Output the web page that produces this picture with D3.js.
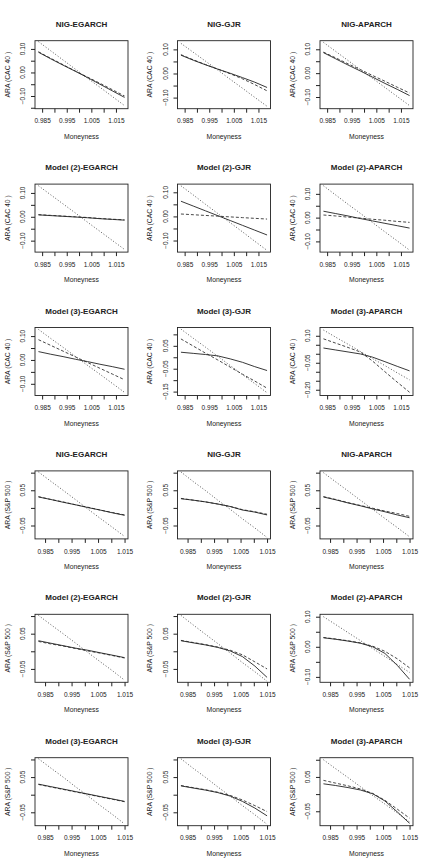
<!DOCTYPE html>
<html>
<head>
<meta charset="utf-8">
<script src="https://cdn.jsdelivr.net/npm/d3@7/dist/d3.min.js"></script>
<style>
  body { margin: 0; background: #fff; }
  text { font-family: "Liberation Sans", Arial, sans-serif; fill: #222; }
</style>
</head>
<body>
<div id="vis"></div>
<script>
var titles = ["NIG-EGARCH", "NIG-GJR", "NIG-APARCH",
  "Model (2)-EGARCH", "Model (2)-GJR", "Model (2)-APARCH",
  "Model (3)-EGARCH", "Model (3)-GJR", "Model (3)-APARCH",
  "NIG-EGARCH", "NIG-GJR", "NIG-APARCH",
  "Model (2)-EGARCH", "Model (2)-GJR", "Model (2)-APARCH",
  "Model (3)-EGARCH", "Model (3)-GJR", "Model (3)-APARCH"];
var y_titles = ["ARA (CAC 40 )", "ARA (S&P 500 )"];

var moneyness_cac = [0.9835, 0.9885, 0.9935, 0.9985, 1.0035, 1.0085, 1.0135, 1.0185];
var moneyness_sp = [0.9825, 0.9871, 0.9918, 0.9964, 1.0011, 1.0057, 1.0104, 1.015];
var x_labels = [0.985, 0.995, 1.005, 1.015];

// one row per panel (rows of the figure, left to right)
var solid = [
  [0.086, 0.058, 0.031, 0.005, -0.022, -0.050, -0.078, -0.106],
  [0.076, 0.055, 0.036, 0.018, 0.001, -0.017, -0.036, -0.058],
  [0.086, 0.060, 0.034, 0.009, -0.017, -0.043, -0.068, -0.094],
  [0.008, 0.005, 0.002, -0.001, -0.004, -0.008, -0.011, -0.014],
  [0.063, 0.043, 0.023, 0.003, -0.017, -0.037, -0.057, -0.077],
  [0.027, 0.017, 0.007, -0.004, -0.014, -0.024, -0.034, -0.044],
  [0.035, 0.024, 0.014, 0.003, -0.007, -0.018, -0.028, -0.039],
  [0.022, 0.017, 0.012, 0.006, -0.007, -0.022, -0.041, -0.058],
  [0.032, 0.021, 0.010, -0.001, -0.019, -0.044, -0.070, -0.095],
  [0.031, 0.024, 0.016, 0.009, 0.001, -0.006, -0.014, -0.021],
  [0.026, 0.022, 0.017, 0.011, 0.004, -0.006, -0.012, -0.020],
  [0.031, 0.023, 0.014, 0.006, -0.003, -0.011, -0.020, -0.028],
  [0.030, 0.023, 0.016, 0.009, 0.003, -0.004, -0.011, -0.018],
  [0.030, 0.024, 0.018, 0.011, 0.001, -0.015, -0.042, -0.074],
  [0.030, 0.025, 0.019, 0.012, 0.000, -0.022, -0.062, -0.108],
  [0.030, 0.023, 0.016, 0.009, 0.002, -0.005, -0.012, -0.019],
  [0.025, 0.019, 0.013, 0.006, -0.004, -0.019, -0.038, -0.060],
  [0.030, 0.025, 0.019, 0.012, 0.001, -0.020, -0.052, -0.085]
];
var dashed = [
  [0.088, 0.060, 0.033, 0.006, -0.020, -0.046, -0.073, -0.100],
  [0.078, 0.057, 0.037, 0.018, -0.001, -0.022, -0.046, -0.072],
  [0.088, 0.064, 0.039, 0.015, -0.010, -0.034, -0.059, -0.083],
  [0.009, 0.006, 0.003, 0.000, -0.003, -0.007, -0.010, -0.013],
  [0.010, 0.007, 0.004, 0.001, -0.002, -0.005, -0.008, -0.011],
  [0.011, 0.007, 0.002, -0.002, -0.007, -0.011, -0.016, -0.020],
  [0.085, 0.061, 0.037, 0.013, -0.011, -0.035, -0.059, -0.083],
  [0.080, 0.049, 0.018, -0.012, -0.043, -0.074, -0.104, -0.135],
  [0.083, 0.059, 0.035, 0.010, -0.041, -0.100, -0.158, -0.214],
  [0.032, 0.024, 0.017, 0.009, 0.002, -0.006, -0.013, -0.020],
  [0.027, 0.022, 0.017, 0.011, 0.004, -0.005, -0.011, -0.018],
  [0.032, 0.024, 0.015, 0.007, -0.001, -0.009, -0.016, -0.024],
  [0.028, 0.021, 0.015, 0.008, 0.001, -0.005, -0.012, -0.019],
  [0.031, 0.025, 0.019, 0.012, 0.003, -0.010, -0.030, -0.050],
  [0.031, 0.026, 0.020, 0.013, 0.002, -0.015, -0.040, -0.070],
  [0.029, 0.022, 0.015, 0.008, 0.001, -0.006, -0.013, -0.020],
  [0.026, 0.020, 0.014, 0.007, -0.002, -0.015, -0.031, -0.048],
  [0.040, 0.032, 0.024, 0.015, 0.002, -0.018, -0.044, -0.070]
];
var dotted = [
  [0.131, 0.092, 0.053, 0.014, -0.025, -0.063, -0.102, -0.141],
  [0.125, 0.088, 0.051, 0.014, -0.024, -0.061, -0.099, -0.136],
  [0.129, 0.091, 0.053, 0.015, -0.022, -0.060, -0.098, -0.136],
  [0.130, 0.092, 0.054, 0.016, -0.023, -0.061, -0.099, -0.137],
  [0.127, 0.089, 0.050, 0.012, -0.026, -0.064, -0.103, -0.141],
  [0.134, 0.095, 0.056, 0.018, -0.021, -0.060, -0.098, -0.137],
  [0.128, 0.090, 0.053, 0.015, -0.023, -0.060, -0.098, -0.136],
  [0.123, 0.083, 0.044, 0.004, -0.036, -0.076, -0.115, -0.155],
  [0.132, 0.092, 0.053, 0.013, -0.027, -0.066, -0.106, -0.145],
  [0.102, 0.076, 0.050, 0.024, -0.003, -0.029, -0.055, -0.081],
  [0.102, 0.075, 0.049, 0.022, -0.004, -0.031, -0.057, -0.084],
  [0.100, 0.074, 0.048, 0.022, -0.004, -0.030, -0.056, -0.082],
  [0.102, 0.076, 0.050, 0.024, -0.003, -0.029, -0.055, -0.082],
  [0.102, 0.075, 0.048, 0.022, -0.005, -0.032, -0.058, -0.085],
  [0.100, 0.074, 0.047, 0.021, -0.006, -0.032, -0.059, -0.085],
  [0.102, 0.076, 0.050, 0.023, -0.003, -0.030, -0.056, -0.083],
  [0.102, 0.075, 0.049, 0.022, -0.004, -0.031, -0.057, -0.084],
  [0.100, 0.074, 0.048, 0.022, -0.004, -0.029, -0.055, -0.081]
];

var y_lims = [
  [-0.154, 0.135], [-0.146, 0.136], [-0.149, 0.136],
  [-0.148, 0.137], [-0.148, 0.134], [-0.145, 0.141],
  [-0.149, 0.136], [-0.167, 0.130], [-0.232, 0.146],
  [-0.088, 0.105], [-0.088, 0.105], [-0.088, 0.105],
  [-0.088, 0.105], [-0.088, 0.105], [-0.118, 0.108],
  [-0.088, 0.105], [-0.088, 0.105], [-0.092, 0.106]
];
var y_labels = [
  [0.10, 0.00, -0.10], [0.10, 0.00, -0.10], [0.10, 0.00, -0.10],
  [0.10, 0.00, -0.10], [0.10, 0.00, -0.10], [0.10, 0.00, -0.10],
  [0.10, 0.00, -0.10], [0.05, -0.05, -0.15], [0.10, -0.05, -0.20],
  [0.05, -0.05], [0.05, -0.05], [0.05, -0.05],
  [0.05, -0.05], [0.05, -0.05], [0.10, 0.00, -0.10],
  [0.05, -0.05], [0.05, -0.05], [0.05, -0.05]
];

var panel = {left: 35, top: 40.7, width: 93, height: 68, col_step: 142.5, row_step: 143.4};
var fmt = d3.format(".2f");
var fmt_x = d3.format(".3f");

var svg = d3.select("#vis").append("svg")
  .attr("width", 422)
  .attr("height", 864);

// R style range: data extent padded 4% on each side
function r_range(values){
  var ext = d3.extent(values);
  var pad = (ext[1] - ext[0]) * 0.04;
  return [ext[0] - pad, ext[1] + pad];
}

function step_ticks(domain, step){
  var lo = Math.ceil(domain[0] / step - 1e-9), hi = Math.floor(domain[1] / step + 1e-9);
  return d3.range(lo, hi + 1).map(k => +(k * step).toFixed(4));
}

titles.forEach(function(title, i){
  var row = Math.floor(i / 3), col = i % 3;
  var xs = row < 3 ? moneyness_cac : moneyness_sp;
  var x0 = panel.left + col * panel.col_step;
  var y0 = panel.top + row * panel.row_step;

  var x_scale = d3.scaleLinear().domain(r_range(xs)).range([x0, x0 + panel.width]);
  var y_scale = d3.scaleLinear().domain(y_lims[i]).range([y0 + panel.height, y0]);

  var g = svg.append("g");

  // x axis
  var x_ticks = step_ticks(x_scale.domain(), 0.005);
  var x_axis = g.append("g")
    .attr("transform", "translate(0," + (y0 + panel.height) + ")")
    .call(d3.axisBottom(x_scale)
      .tickValues(x_ticks)
      .tickSize(4)
      .tickPadding(6)
      .tickFormat(function(d){
        return x_labels.some(v => Math.abs(v - d) < 1e-6) ? fmt_x(d) : "";
      }));
  x_axis.select(".domain").remove();
  x_axis.selectAll("line").attr("stroke", "#222");
  x_axis.selectAll("text").style("font-size", "6.5px").attr("fill", "#222");

  // y axis
  var y_ticks = step_ticks(y_scale.domain(), 0.05);
  var y_axis = g.append("g")
    .attr("transform", "translate(" + x0 + ",0)")
    .call(d3.axisLeft(y_scale).tickValues(y_ticks).tickSize(4).tickFormat(""));
  y_axis.select(".domain").remove();
  y_axis.selectAll("line").attr("stroke", "#222");

  g.selectAll(".ylab")
    .data(y_labels[i])
    .enter().append("text")
    .attr("class", "ylab")
    .attr("transform", d => "translate(" + (x0 - 10) + "," + y_scale(d) + ") rotate(-90)")
    .attr("text-anchor", "middle")
    .style("font-size", "6.5px")
    .text(d => fmt(d));

  // series
  var line = d3.line()
    .x((d, k) => x_scale(xs[k]))
    .y(d => y_scale(d));

  g.append("path").datum(dotted[i])
    .attr("d", line)
    .attr("fill", "none")
    .attr("stroke", "#444")
    .attr("stroke-width", 0.9)
    .attr("stroke-dasharray", "1,2");
  g.append("path").datum(dashed[i])
    .attr("d", line)
    .attr("fill", "none")
    .attr("stroke", "#333")
    .attr("stroke-width", 0.9)
    .attr("stroke-dasharray", "3,2");
  g.append("path").datum(solid[i])
    .attr("d", line)
    .attr("fill", "none")
    .attr("stroke", "#222")
    .attr("stroke-width", 0.9);

  // box
  g.append("rect")
    .attr("x", x0)
    .attr("y", y0)
    .attr("width", panel.width)
    .attr("height", panel.height)
    .attr("fill", "none")
    .attr("stroke", "#222")
    .attr("stroke-width", 0.9);

  // titles
  g.append("text")
    .attr("x", x0 + panel.width / 2)
    .attr("y", y0 - 14)
    .attr("text-anchor", "middle")
    .style("font-size", "8px")
    .style("font-weight", "bold")
    .text(title);
  g.append("text")
    .attr("x", x0 + panel.width / 2)
    .attr("y", y0 + panel.height + 30)
    .attr("text-anchor", "middle")
    .style("font-size", "6.8px")
    .text("Moneyness");
  g.append("text")
    .attr("transform", "translate(" + (x0 - 25.5) + "," + (y0 + panel.height / 2) + ") rotate(-90)")
    .attr("text-anchor", "middle")
    .style("font-size", "6.8px")
    .text(y_titles[row < 3 ? 0 : 1]);
});
</script>
</body>
</html>
